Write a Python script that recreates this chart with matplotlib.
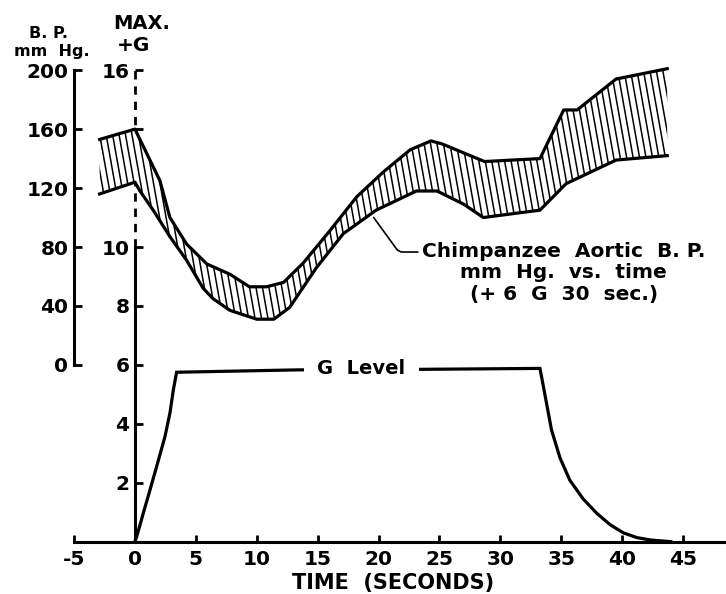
import numpy as np
import matplotlib.pyplot as plt
from matplotlib.collections import LineCollection

plt.rcParams.update({
    "font.family": "DejaVu Sans",
    "font.weight": "bold",
    "axes.unicode_minus": False,
    "xtick.labelsize": 14.5,
    "ytick.labelsize": 14.5,
})

"""
Data read off the figure
"""
# G level (+G) vs time
g_time = [0, 0.14, 0.68, 1.23, 1.78, 2.46, 2.87, 3.15, 3.42, 13.3, 23.7, 33.25,
          33.45, 34.2, 34.9, 35.7, 36.8, 37.9, 39.0, 40.1, 41.2, 42.3, 44.0]
g_level = [0, 0.17, 0.96, 1.75, 2.55, 3.56, 4.36, 5.15, 5.75, 5.83, 5.85, 5.88,
           5.45, 3.79, 2.84, 2.09, 1.45, 0.97, 0.58, 0.30, 0.14, 0.06, 0.0]

# aortic B.P. (mm Hg) envelope, upper and lower edge
t_up = [-2.9, 0, 2.05, 2.87, 4.24, 5.9, 7.8, 9.4, 10.8, 12.2, 13.8, 16.0, 18.2,
        20.4, 22.6, 24.3, 25.2, 28.7, 33.25, 35.2, 36.3, 39.5, 43.7]
bp_up = [153, 160, 125, 100, 82, 68.5, 61.5, 53, 53, 56, 69, 91, 114,
         131, 146, 152, 150, 138, 140, 173, 173, 194, 201]

t_lo = [-2.9, 0, 0.41, 1.5, 2.87, 4.24, 5.6, 6.4, 7.8, 10.0, 11.4, 12.7, 14.9,
        17.1, 19.8, 23.1, 24.8, 27.0, 28.6, 33.25, 35.4, 39.5, 43.7]
bp_lo = [116, 124, 118, 105, 87, 71, 52, 45, 37, 31, 31, 39, 66,
         89, 105, 118, 118, 109, 100, 105, 123, 139, 142]

x_ticks = [-5, 0, 5, 10, 15, 20, 25, 30, 35, 40, 45]
g_ticks = [2, 4, 6, 8, 10, 16]
bp_ticks = [0, 40, 80, 120, 160, 200]

"""
Figure
"""
fig = plt.figure(figsize=(7.26, 5.94), dpi=100)
ax = fig.add_axes([43.6 / 726, 52.3 / 594, 682.1 / 726, 539.3 / 594])
ax2 = ax.twinx()

x_lim = (-7.5, 48.5)
g_lim = (0, 18.3)
ax.set_xlim(x_lim)
ax.set_ylim(g_lim)
# B.P. axis: 0 mm Hg at 6 G, 200 mm Hg at 16 G
ax2.set_ylim((g_lim[0] - 6) * 20, (g_lim[1] - 6) * 20)

# G level trace
ax.plot(g_time, g_level, color='black', lw=2.3, solid_joinstyle='miter', zorder=4)
ax.text(18.6, 5.87, 'G  Level', ha='center', va='center', fontsize=14,
        bbox=dict(facecolor='white', edgecolor='none', pad=10), zorder=5)

# B.P. band with slanted hatching
band = ax2.fill(np.r_[t_up, t_lo[::-1]], np.r_[bp_up, bp_lo[::-1]],
                facecolor='white', edgecolor='none', zorder=2)[0]
starts = np.arange(-10, 44, 0.53)
segs = [[(s, 240), (s + 5.6, -20)] for s in starts]
hatch = LineCollection(segs, colors='black', linewidths=1.1, zorder=3)
ax2.add_collection(hatch, autolim=False)
hatch.set_clip_path(band)
ax2.plot(t_up, bp_up, color='black', lw=2.3, zorder=4)
ax2.plot(t_lo, bp_lo, color='black', lw=2.3, zorder=4)

ax2.annotate('Chimpanzee  Aortic  B. P.\nmm  Hg.  vs.  time\n(+ 6  G  30  sec.)',
             xy=(19.6, 100), xytext=(35.2, 62.4), ha='center', va='center',
             fontsize=14.5, linespacing=1.15,
             arrowprops=dict(arrowstyle='-', color='black', lw=1.2,
                             connectionstyle='angle,angleA=0,angleB=-54,rad=4',
                             relpos=(0, 0.84), shrinkA=1, shrinkB=0))

"""
Axes styling
"""
for s in ['top', 'right']:
    ax.spines[s].set_visible(False)
for s in ['top', 'right', 'bottom']:
    ax2.spines[s].set_visible(False)

ax.spines['left'].set_position(('data', 0))
ax.spines['left'].set_bounds(0, 10)
ax.spines['bottom'].set_bounds(-5, x_lim[1])
for s in ['left', 'bottom']:
    ax.spines[s].set_linewidth(2.2)
# broken part of the G axis
ax.plot([0, 0], [10, 16.2], color='black', lw=2.0, ls=(0, (3, 2.5)), clip_on=False)

ax.set_xticks(x_ticks)
ax.set_yticks(g_ticks)
ax.set_yticks([14], minor=True)
ax.tick_params(axis='x', direction='in', length=5, width=2, pad=6)
ax.tick_params(axis='y', which='both', direction='in', length=6, width=2, pad=4)

ax2.yaxis.tick_left()
ax2.spines['left'].set_visible(True)
ax2.spines['left'].set_position(('data', -5))
ax2.spines['left'].set_bounds(0, 200)
ax2.spines['left'].set_linewidth(2.2)
ax2.set_yticks(bp_ticks)
ax2.tick_params(axis='y', direction='in', length=6, width=2, pad=4)

# axis titles
ax.text(21.2, -0.077, 'TIME  (SECONDS)', transform=ax.get_xaxis_transform(),
        ha='center', va='center', fontsize=15)
ax.text(-7.06, 17.25, 'B. P.', ha='center', va='center', fontsize=11.5, clip_on=False)
ax.text(-6.8, 16.63, 'mm  Hg.', ha='center', va='center', fontsize=11.5, clip_on=False)
ax.text(0.57, 17.6, 'MAX.', ha='center', va='center', fontsize=14, clip_on=False)
ax.text(-0.08, 16.85, '+G', ha='center', va='center', fontsize=14.5, clip_on=False)

plt.savefig('out.png', dpi=100)
